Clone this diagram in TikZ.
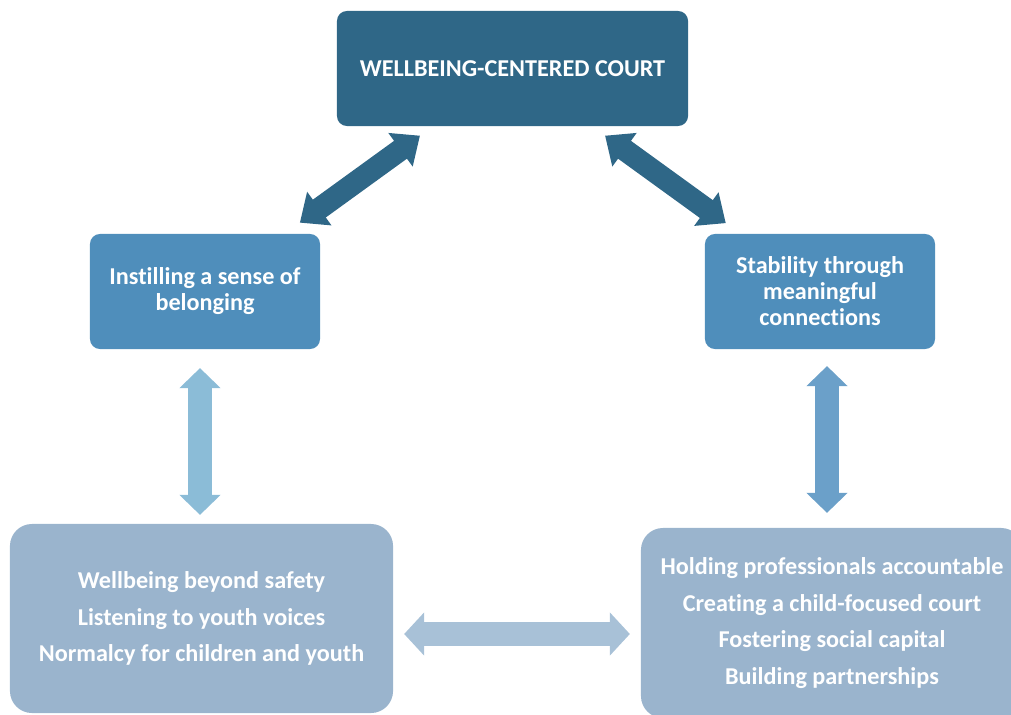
\documentclass[tikz,border=0pt]{standalone}
\usepackage{fontspec}
\setmainfont{Carlito}[Ligatures=NoCommon]
\usetikzlibrary{arrows.meta}
\definecolor{court}{HTML}{2F6787}
\definecolor{mid}{HTML}{4F8EBB}
\definecolor{low}{HTML}{9AB4CD}
\definecolor{vleft}{HTML}{8BBCD7}
\definecolor{vright}{HTML}{6BA0C9}
\definecolor{horiz}{HTML}{A8C1D7}
\tikzset{
  box/.style={fill=#1,rounded corners=0.25cm,inner sep=0pt,align=center,
    text=white,font=\bfseries\fontsize{17.2}{18.5}\selectfont},
  lowbox/.style={box=low,rounded corners=0.55cm,
    font=\bfseries\fontsize{17.2}{26.2}\selectfont},
  blockarrow/.style={line width=#1},
}
\begin{document}
\begin{tikzpicture}[x=0.025cm,y=-0.025cm]
\useasboundingbox (0,0) rectangle (1011,715);
\clip (0,0) rectangle (1011,715);
\node[box=court,minimum width=8.775cm,minimum height=2.875cm] (court) at (512.5,68.5) {WELLBEING-CENTERED COURT};
\node[box=mid,minimum width=5.75cm,minimum height=2.875cm] (belong) at (205,291.5) {Instilling a sense of\\belonging};
\node[box=mid,minimum width=5.75cm,minimum height=2.875cm] (stable) at (820,291.5) {Stability through\\meaningful\\connections};
\node[lowbox,minimum width=9.575cm,minimum height=4.725cm] (lowleft) at (201.5,618.5) {Wellbeing beyond safety\\Listening to youth voices\\Normalcy for children and youth};
\node[lowbox,minimum width=9.55cm,minimum height=4.75cm] (lowright) at (832,623) {Holding professionals accountable\\Creating a child-focused court\\Fostering social capital\\Building partnerships};
% links
\draw[blockarrow=0.55cm,court,{Triangle[width=1cm,length=0.6cm]}-{Triangle[width=1cm,length=0.6cm]},shorten <=0.4cm,shorten >=0.47cm] (court) -- (belong);
\draw[blockarrow=0.55cm,court,{Triangle[width=1cm,length=0.6cm]}-{Triangle[width=1cm,length=0.6cm]},shorten <=0.4cm,shorten >=0.45cm] (court) -- (stable);
\draw[blockarrow=0.62cm,vleft,{Triangle[width=1cm,length=0.5cm]}-{Triangle[width=1cm,length=0.5cm]},shorten <=0.47cm,shorten >=0.22cm] ([xshift=-0.125cm]belong.south) -- ([xshift=-0.125cm]belong.south |- lowleft.north);
\draw[blockarrow=0.62cm,vright,{Triangle[width=1cm,length=0.5cm]}-{Triangle[width=1cm,length=0.5cm]},shorten <=0.42cm,shorten >=0.37cm] ([xshift=0.175cm]stable.south) -- ([xshift=0.175cm]stable.south |- lowright.north);
\coordinate (hline) at (0,634);
\draw[blockarrow=0.6cm,horiz,{Triangle[width=1.05cm,length=0.5cm]}-{Triangle[width=1.05cm,length=0.5cm]},shorten <=0.27cm,shorten >=0.27cm] (lowleft.east |- hline) -- (lowright.west |- hline);
\end{tikzpicture}
\end{document}
